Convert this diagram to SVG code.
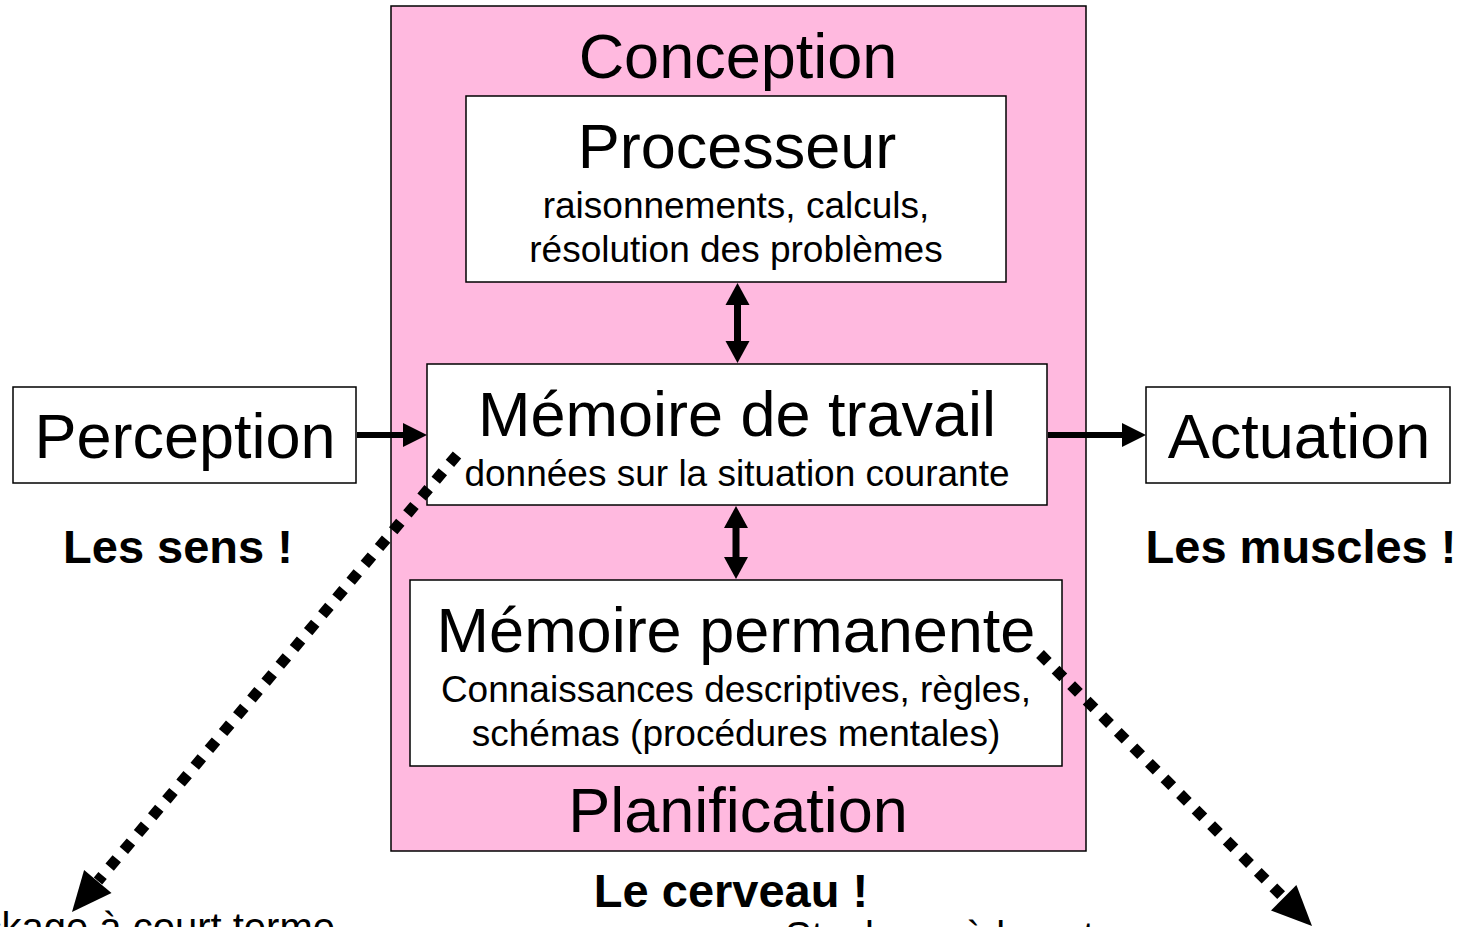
<svg xmlns="http://www.w3.org/2000/svg" width="1462" height="927" viewBox="0 0 1462 927">
<style>
.box{fill:#fff;stroke:#000;stroke-width:1.5}
.t{font-family:"Liberation Sans",Arial,sans-serif;fill:#000;text-anchor:middle}
.big{font-size:63px}
.sub{font-size:37px}
.bold{font-size:47px;font-weight:bold}
.low{font-size:40px}
.shaft{stroke:#000;stroke-width:6;fill:none}
.dots{stroke:#000;stroke-width:11;stroke-dasharray:11 11;fill:none}
.head{fill:#000}
</style>
<rect width="1462" height="927" fill="#fff"/>
<g id="cerveau">
<rect x="391" y="6" width="695" height="845" fill="#FFB9DF" stroke="#000" stroke-width="1.5"/>
<text class="t big" x="738" y="78">Conception</text>
<text class="t big" x="738" y="832">Planification</text>
</g>
<g id="processeur">
<rect class="box" x="466" y="96" width="540" height="186"/>
<text class="t big" x="737" y="168">Processeur</text>
<text class="t sub" x="736" y="218">raisonnements, calculs,</text>
<text class="t sub" x="736" y="262">résolution des problèmes</text>
</g>
<g id="memoire-travail">
<rect class="box" x="427" y="364" width="620" height="141"/>
<text class="t big" x="737" y="436">Mémoire de travail</text>
<text class="t sub" x="737" y="486">données sur la situation courante</text>
</g>
<g id="memoire-permanente">
<rect class="box" x="410" y="580" width="652" height="186"/>
<text class="t big" x="736" y="652">Mémoire permanente</text>
<text class="t sub" x="736" y="702">Connaissances descriptives, règles,</text>
<text class="t sub" x="736" y="746">schémas (procédures mentales)</text>
</g>
<g id="perception">
<rect class="box" x="13" y="387" width="343" height="96"/>
<text class="t big" x="185" y="458">Perception</text>
</g>
<g id="actuation">
<rect class="box" x="1146" y="387" width="304" height="96"/>
<text class="t big" x="1299" y="458">Actuation</text>
</g>
<g id="labels">
<text class="t bold" x="178" y="563">Les sens !</text>
<text class="t bold" x="1301" y="563">Les muscles !</text>
<text class="t bold" x="731" y="907">Le cerveau !</text>
<text class="t low" x="335" y="941" style="text-anchor:end">Stockage à court terme</text>
<text class="t low" x="785" y="950" style="text-anchor:start">Stockage à long terme</text>
</g>
<g id="connectors">
<line class="shaft" x1="357" y1="435" x2="405" y2="435"/>
<polygon class="head" points="427,435 403,423 403,447"/>
<line class="shaft" x1="1048" y1="435" x2="1124" y2="435"/>
<polygon class="head" points="1146,435 1122,423 1122,447"/>
<line class="shaft" x1="737.5" y1="300" x2="737.5" y2="346" style="stroke-width:7"/>
<polygon class="head" points="737.5,283 725.5,305 749.5,305"/>
<polygon class="head" points="737.5,363 725.5,341 749.5,341"/>
<line class="shaft" x1="736" y1="523" x2="736" y2="562" style="stroke-width:7"/>
<polygon class="head" points="736,506 724,528 748,528"/>
<polygon class="head" points="736,579 724,557 748,557"/>
<line class="dots" x1="457" y1="455" x2="98" y2="881"/>
<polygon class="head" points="72,912 111.5,893.1 84.1,869.9"/>
<line class="dots" x1="1040" y1="654" x2="1284" y2="898"/>
<polygon class="head" points="1312,926 1271,910.4 1296.4,885"/>
</g>
</svg>
